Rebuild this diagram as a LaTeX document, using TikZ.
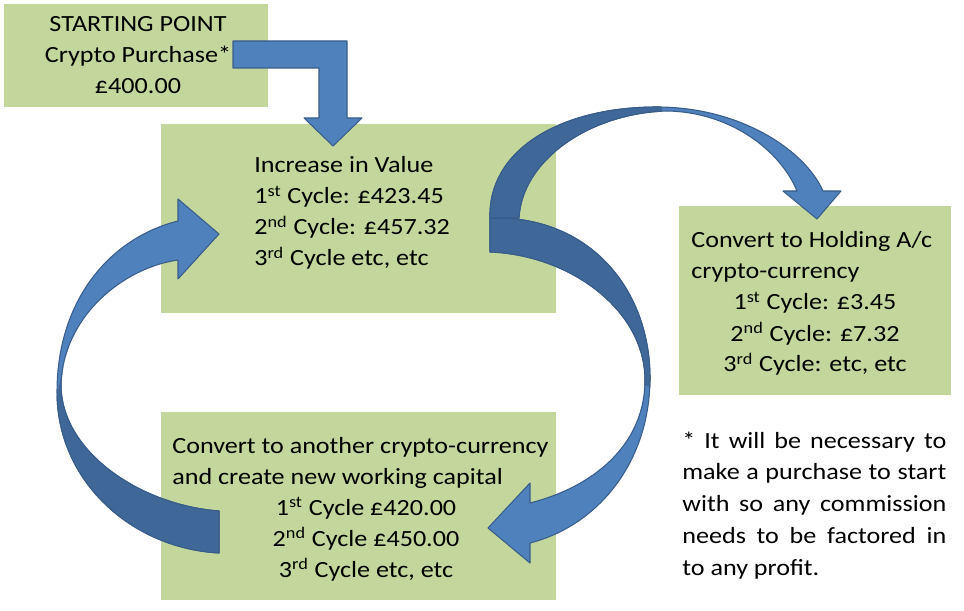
\documentclass[tikz, border = 0pt]{standalone}
\usepackage{fontspec}
\setmainfont{Carlito}[FakeStretch = 1.126]

\definecolor{panelgreen}{HTML}{C3D69B}
\definecolor{arrowblue}{HTML}{4F81BD}
\definecolor{arrowshade}{HTML}{3F6797}
\definecolor{arrowedge}{HTML}{385D8A}

\tikzset{
	panel/.style 2 args = {fill = panelgreen, inner sep = 0pt, minimum width = #1 * 0.02 cm, minimum height = #2 * 0.02 cm},
	front/.style = {fill = arrowblue, draw = arrowedge, line width = 0.6pt, line join = round},
	back/.style = {fill = arrowshade, draw = arrowedge, line width = 0.6pt, line join = round},
	txt/.style = {inner sep = 0pt, font = \fontsize{13.2}{17.64}\selectfont}
}

% Outlines of the block arrows (pixel units)

\newcommand{\leftloop}{(219, 234) -- (178, 199) -- (178, 221) .. controls (110, 238) and (57, 300) .. (57, 392) .. controls (57, 480) and (130, 548) .. (219, 553) -- (219, 511) .. controls (140, 505) and (62, 452) .. (61, 386) .. controls (62, 318) and (122, 268) .. (178, 260) -- (178, 279) -- cycle}
\newcommand{\toparch}{(490, 218) .. controls (488, 150) and (560, 107) .. (657, 107) .. controls (740, 107) and (805, 150) .. (823, 191) -- (841, 191) -- (817, 219) -- (783, 191) -- (797, 191) .. controls (780, 150) and (730, 112) .. (667, 111) .. controls (590, 113) and (522, 160) .. (519, 218) -- cycle}
\newcommand{\rightloop}{(490, 218) .. controls (590, 215) and (650, 290) .. (650, 378) .. controls (650, 460) and (600, 525) .. (530, 543) -- (530, 563) -- (488, 528) -- (530, 483) -- (530, 503) .. controls (600, 485) and (645, 440) .. (645, 380) .. controls (645, 310) and (570, 255) .. (490, 252) -- cycle}

\begin{document}

\begin{tikzpicture}[x = 0.02 cm, y = -0.02 cm]

	\useasboundingbox (0, 0) rectangle (964, 611);

	% Boxes

	\node (start) [panel = {264}{103}] at (136, 55.5) {};
	\node (value) [panel = {395}{189}] at (358.5, 218.5) {};
	\node (holding) [panel = {272}{189}] at (815, 300.5) {};
	\node (capital) [panel = {395}{188}] at (358.5, 506) {};

	% Bent arrow from the starting point

	\filldraw [front] (233, 41) -- (347, 41) -- (347, 118) -- (362, 118) -- (333, 146) -- (304, 118) -- (319, 118) -- (319, 68) -- (233, 68) -- cycle;

	% Left loop, capital back to value

	\filldraw [front] \leftloop;
	\begin{scope}
		\clip (20, 400) -- (57, 395) -- (68, 347) -- (120, 330) -- (300, 330) -- (300, 620) -- (20, 620) -- cycle;
		\filldraw [back] \leftloop;
	\end{scope}

	% Right loop, value down to capital

	\filldraw [front] \rightloop;
	\begin{scope}
		\clip (470, 200) -- (700, 200) -- (700, 402) -- (647, 386) -- (470, 380) -- cycle;
		\filldraw [back] \rightloop;
	\end{scope}

	% Arch, value over to holding

	\filldraw [front] \toparch;
	\begin{scope}
		\clip (400, 80) rectangle (662, 230);
		\filldraw [back] \toparch;
	\end{scope}

	% Text

	\foreach \entry [count = \i] in {STARTING POINT, Crypto Purchase*, £400.00}
		\node (start-\i) [txt, anchor = base] at (138, 1 + 31 * \i) {\entry};

	\foreach \entry [count = \i] in {Increase in Value, 1\textsuperscript{st} Cycle: £423.45, 2\textsuperscript{nd} Cycle: £457.32, {3\textsuperscript{rd} Cycle etc, etc}}
		\node (value-\i) [txt, anchor = base west] at (254, 142 + 31 * \i) {\entry};

	\foreach \entry [count = \i] in {Convert to Holding A/c, crypto-currency}
		\node (holding-\i) [txt, anchor = base west] at (691, 217 + 31 * \i) {\entry};
	\foreach \entry [count = \i from 3] in {1\textsuperscript{st} Cycle: £3.45, 2\textsuperscript{nd} Cycle: £7.32, {3\textsuperscript{rd} Cycle: etc, etc}}
		\node (holding-\i) [txt, anchor = base] at (815, 217 + 31 * \i) {\entry};

	\foreach \entry [count = \i] in {Convert to another crypto-currency, and create new working capital}
		\node (capital-\i) [txt, anchor = base west] at (172, 422 + 31 * \i) {\entry};
	\foreach \entry [count = \i from 3] in {1\textsuperscript{st} Cycle £420.00, 2\textsuperscript{nd} Cycle £450.00, {3\textsuperscript{rd} Cycle etc, etc}}
		\node (capital-\i) [txt, anchor = base] at (366, 422 + 31 * \i) {\entry};

	% Footnote

	\foreach \entry [count = \i] in {* It will be necessary to, make a purchase to start, with so any commission, needs to be factored in}
		\node (note-\i) [txt, anchor = base west] at (682, 416.3 + 31.7 * \i) {\makebox[5.28cm][s]{\entry}};
	\node (note-5) [txt, anchor = base west] at (682, 575) {to any profit.};

\end{tikzpicture}

\end{document}
